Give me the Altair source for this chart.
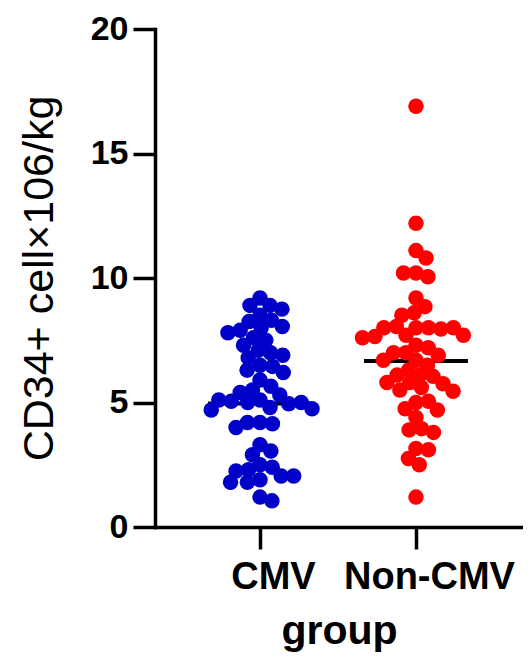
import math
import altair as alt
import pandas as pd

# ---- data ----
groups = ["CMV", "Non-CMV"]

cmv_values = [9.2, 8.9, 8.9, 8.75, 8.5, 8.3, 8.25, 8.05, 8.0, 7.9, 7.8, 7.6, 7.5,
              7.3, 7.1, 7.0, 6.9, 6.8, 6.5, 6.45, 6.3, 6.2, 5.9, 5.65, 5.5, 5.4,
              5.3, 5.1, 5.05, 5.0, 4.95, 5.0, 5.1, 4.8, 4.7, 4.75, 4.2, 4.15, 4.2,
              4.0, 3.3, 3.05, 2.9, 2.5, 2.4, 2.3, 2.25, 2.05, 2.05, 1.9, 1.8, 1.8,
              1.2, 1.05]

noncmv_values = [16.9, 12.2, 11.1, 10.8, 10.2, 10.05, 10.2, 9.2, 8.85, 8.6, 8.5,
                 8.0, 8.0, 8.05, 7.95, 8.0, 8.0, 7.7, 7.65, 7.7, 7.6, 7.3, 7.2,
                 7.0, 7.0, 6.9, 6.7, 6.7, 6.5, 6.3, 6.1, 6.05, 6.1, 5.8, 5.75,
                 5.8, 5.6, 5.5, 5.45, 5.0, 5.05, 4.75, 4.7, 4.4, 3.95, 3.9, 3.8,
                 3.15, 3.1, 2.75, 2.5, 1.2]

mean_values = [4.96, 6.67]

y_ticks = [0, 5, 10, 15, 20]
colors = ["#0000C8", "#FF0000"]

# ---- layout settings ----
W, H = 368, 498
X_DOMAIN = [-0.673, 1.686]
Y_DOMAIN = [0, 20]
PX_X = W / (X_DOMAIN[1] - X_DOMAIN[0])
PX_Y = H / (Y_DOMAIN[1] - Y_DOMAIN[0])
COLLIDE = 12.5  # px


def beeswarm(vals):
    placed = []
    offs = []
    for v in vals:
        y = v * PX_Y
        cands = [0.0]
        for px, py in placed:
            dy = abs(py - y)
            if dy < COLLIDE:
                dx = math.sqrt(COLLIDE * COLLIDE - dy * dy)
                cands += [px + dx, px - dx]
        cands.sort(key=abs)
        x = 0.0
        for c in cands:
            if all((c - px) ** 2 + (y - py) ** 2 >= COLLIDE * COLLIDE - 1e-6
                   for px, py in placed):
                x = c
                break
        placed.append((x, y))
        offs.append(x / PX_X)
    return offs


rows = []
for gi, (g, vals) in enumerate(zip(groups, [cmv_values, noncmv_values])):
    for v, o in zip(vals, beeswarm(vals)):
        rows.append({"group": g, "value": v, "pos": gi + o})
df = pd.DataFrame(rows)

mean_df = pd.DataFrame({
    "group": groups,
    "value": mean_values,
    "idx": list(range(len(groups))),
})

FONT = "Liberation Sans, Arial, sans-serif"

x_axis = alt.Axis(
    values=[0, 1],
    labelExpr="datum.value == 0 ? 'CMV' : 'Non-CMV'",
    grid=False, tickSize=22, tickWidth=3.5, tickColor="black",
    domainWidth=3.5, domainColor="black", domainCap="square",
    labelFont=FONT, labelFontSize=38, labelFontWeight="bold", labelColor="black",
    labelBaseline="alphabetic", labelPadding=39, labelOffset=13,
    labelFlush=False, labelOverlap=False,
    title="group", titleFont=FONT, titleFontSize=41, titleFontWeight="bold",
    titleColor="black", titleBaseline="alphabetic", titleY=116, titleX=W / 2,
    titleAlign="center",
)

y_axis = alt.Axis(
    values=y_ticks, grid=False, tickSize=22, tickWidth=3.5, tickColor="black",
    domainWidth=3.5, domainColor="black", domainCap="square",
    labelFont=FONT, labelFontSize=34, labelFontWeight="bold", labelColor="black",
    labelPadding=5, labelFlush=False, labelOverlap=False,
    title="CD34+ cell×106/kg", titleFont=FONT, titleFontSize=43,
    titleFontWeight="normal", titleColor="black", titleAngle=270,
    titleBaseline="alphabetic", titleAlign="center", titleX=-103, titleY=H / 2,
)

x_enc = alt.X("pos:Q", scale=alt.Scale(domain=X_DOMAIN, nice=False, zero=False), axis=x_axis)
y_enc = alt.Y("value:Q", scale=alt.Scale(domain=Y_DOMAIN, nice=False, zero=False), axis=y_axis)

points = alt.Chart(df).mark_circle(size=240, opacity=1).encode(
    x=x_enc,
    y=y_enc,
    color=alt.Color("group:N", scale=alt.Scale(domain=groups, range=colors), legend=None),
)

rules = alt.Chart(mean_df).transform_calculate(
    pos="datum.idx - 0.333", pos2="datum.idx + 0.333"
).mark_rule(color="black", strokeWidth=4).encode(
    x=x_enc, x2="pos2:Q", y=y_enc,
)

chart = alt.layer(rules, points).properties(
    width=W, height=H,
    autosize=alt.AutoSizeParams(type="none"),
    padding={"left": 147, "top": 21, "right": 0, "bottom": 126},
).configure_view(stroke=None)

chart.save("out.html", embed_options={"renderer": "svg", "actions": False})
